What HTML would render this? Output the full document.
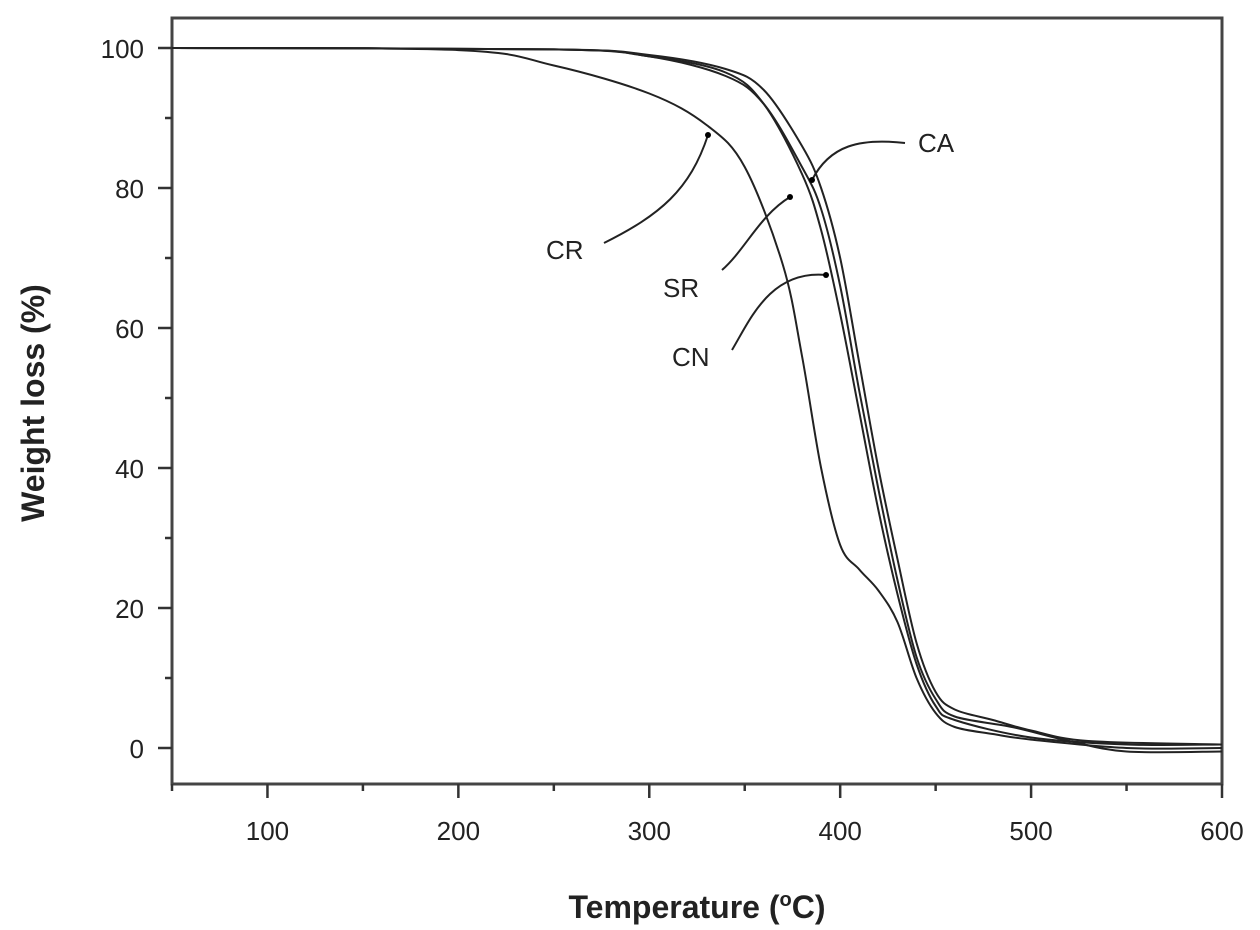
<!DOCTYPE html>
<html><head><meta charset="utf-8"><style>
html,body{margin:0;padding:0;background:#fff;}
svg{display:block;font-family:"Liberation Sans",Arial,sans-serif;}
</style></head><body>
<svg id="chart" width="1260" height="930" viewBox="0 0 1260 930">
<g id="axes"></g><g id="series"></g><g id="annot"></g>
</svg>
<script>
const xTicks=[100,200,300,400,500,600];
const yTicks=[0,20,40,60,80,100];
const crT=[50,200,250,300,330,350,370,380,390,400,410,420,430,440,450,460,480,500,550,600];
const crW=[100,99.7,97.5,93.5,89,83,69,56,40,29,25.5,22.5,18,10,5,3,2,1.2,0,0];
const caT=[50,250,300,340,360,380,390,400,410,420,430,440,450,460,480,500,530,600];
const caW=[100,99.8,99,97,94,86,80,70,55,40,27,15,8,5.5,4,2.5,1,0.5];
const srT=[50,250,300,340,360,380,390,400,410,420,430,440,450,460,500,550,600];
const srW=[100,99.8,98.8,96.5,92,82,74,62,48,34,22,12,6,4,1.5,0.5,0.5];
const cnT=[50,250,300,340,360,380,390,400,410,420,430,440,450,460,490,520,550,600];
const cnW=[100,99.8,98.8,96,92,83,77,66,51,37,24,13,7,4.5,3,1,-0.5,-0.5];

const L=172,R=1222,T=18,B=784;
const x=t=>L+(t-50)*(R-L)/550;
const y=w=>748-w*7;
const NS="http://www.w3.org/2000/svg";
function mk(tag,attrs,parent){const e=document.createElementNS(NS,tag);for(const k in attrs)e.setAttribute(k,attrs[k]);parent.appendChild(e);return e;}
const ax=document.getElementById('axes');
const frame=mk('rect',{x:L,y:T,width:R-L,height:B-T,fill:'none',stroke:'#444','stroke-width':3},ax);


for(let t=50;t<=600;t+=50){
  const big=t%100===0;
  const tk=mk('line',{x1:x(t),x2:x(t),y1:B,y2:B+(big?14:7),stroke:'#333','stroke-width':2.5},ax);
  
  
}
xTicks.forEach(t=>{
  const tx=mk('text',{x:x(t),y:B+56,'font-size':26,'text-anchor':'middle',fill:'#222'},ax);tx.textContent=t;
  
  
});
for(let w=0;w<=100;w+=10){
  const big=w%20===0;
  const tk=mk('line',{x1:L,x2:L-(big?14:7),y1:y(w),y2:y(w),stroke:'#333','stroke-width':2.5},ax);
  
  
}
yTicks.forEach(w=>{
  const tx=mk('text',{x:L-28,y:y(w)+10,'font-size':26,'text-anchor':'end',fill:'#222'},ax);tx.textContent=w;
  
  
});
const xt=mk('text',{x:697,y:918,'font-size':32,'font-weight':'bold','text-anchor':'middle',fill:'#222'},ax);
xt.innerHTML='Temperature (<tspan dy="-12" font-size="20">o</tspan><tspan dy="12">C)</tspan>';


const yt=mk('text',{x:0,y:0,'font-size':32,'font-weight':'bold','text-anchor':'middle',fill:'#222',transform:'translate(44,403) rotate(-90)'},ax);
yt.textContent='Weight loss (%)';



function pathFrom(ts,ws){
  const p=ts.map((t,i)=>[x(t),y(ws[i])]);
  let d='M'+p[0][0]+','+p[0][1];
  for(let i=0;i<p.length-1;i++){
    const p0=p[i-1]||p[i],p1=p[i],p2=p[i+1],p3=p[i+2]||p2;
    const c1=[p1[0]+(p2[0]-p0[0])/6,p1[1]+(p2[1]-p0[1])/6];
    const c2=[p2[0]-(p3[0]-p1[0])/6,p2[1]-(p3[1]-p1[1])/6];
    d+=`C${c1[0]},${c1[1]} ${c2[0]},${c2[1]} ${p2[0]},${p2[1]}`;
  }
  return d;
}
const sg=document.getElementById('series');
const s1=mk('path',{d:pathFrom(crT,crW),fill:'none',stroke:'#222','stroke-width':2},sg);


const s2=mk('path',{d:pathFrom(caT,caW),fill:'none',stroke:'#222','stroke-width':2},sg);


const s3=mk('path',{d:pathFrom(srT,srW),fill:'none',stroke:'#222','stroke-width':2},sg);


const s4=mk('path',{d:pathFrom(cnT,cnW),fill:'none',stroke:'#222','stroke-width':2},sg);



const an=document.getElementById('annot');
const arrows=[
 {d:'M604,243 C660,215 690,190 708,135',ax:708,ay:135},
 {d:'M722,270 C745,250 760,215 790,197',ax:790,ay:197},
 {d:'M732,350 C750,320 770,270 826,275',ax:826,ay:275},
 {d:'M905,143 C860,138 830,145 812,180',ax:812,ay:180}
];
arrows.forEach(a=>{
  const p=mk('path',{d:a.d,fill:'none',stroke:'#222','stroke-width':2},an);
  
  
  const h=mk('circle',{cx:a.ax,cy:a.ay,r:3,fill:'#000'},an);
  
  
});
[['CR',546,259],['SR',663,297],['CN',672,366],['CA',918,152]].forEach(l=>{
  const t=mk('text',{x:l[1],y:l[2],'font-size':26,fill:'#222'},an);t.textContent=l[0];
  
  
});
</script>
</body></html>
